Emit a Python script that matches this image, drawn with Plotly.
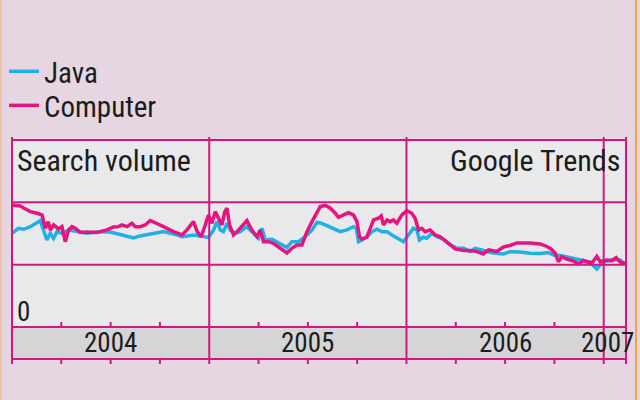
import plotly.graph_objects as go

# ---------------- data ----------------
java_year = [2004.000, 2004.033, 2004.059, 2004.093, 2004.143, 2004.160, 2004.177, 2004.194,
             2004.211, 2004.228, 2004.253, 2004.287, 2004.329, 2004.380, 2004.448, 2004.498,
             2004.549, 2004.616, 2004.650, 2004.718, 2004.768, 2004.819, 2004.862, 2004.920,
             2004.963, 2004.996, 2005.022, 2005.039, 2005.056, 2005.072, 2005.090, 2005.106,
             2005.132, 2005.157, 2005.191, 2005.225, 2005.250, 2005.267, 2005.284, 2005.318,
             2005.360, 2005.394, 2005.419, 2005.453, 2005.487, 2005.521, 2005.546, 2005.563,
             2005.588, 2005.613, 2005.664, 2005.698, 2005.731, 2005.745, 2005.757, 2005.774,
             2005.799, 2005.825, 2005.850, 2005.875, 2005.901, 2005.926, 2005.959, 2005.985,
             2006.010, 2006.035, 2006.053, 2006.066, 2006.086, 2006.103, 2006.129, 2006.154,
             2006.187, 2006.222, 2006.255, 2006.289, 2006.323, 2006.348, 2006.382, 2006.407,
             2006.441, 2006.492, 2006.526, 2006.576, 2006.627, 2006.678, 2006.720, 2006.745,
             2006.779, 2006.830, 2006.881, 2006.922, 2006.948, 2006.965, 2006.990, 2007.016,
             2007.049, 2007.083, 2007.108]
java_vol = [1.504, 1.584, 1.568, 1.610, 1.706, 1.530, 1.396, 1.504,
            1.424, 1.530, 1.504, 1.557, 1.530, 1.504, 1.530, 1.525,
            1.485, 1.429, 1.461, 1.504, 1.530, 1.493, 1.449, 1.477,
            1.449, 1.437, 1.557, 1.690, 1.557, 1.530, 1.665, 1.557,
            1.504, 1.530, 1.610, 1.504, 1.424, 1.584, 1.396, 1.408,
            1.343, 1.276, 1.369, 1.369, 1.449, 1.557, 1.677, 1.669,
            1.637, 1.605, 1.530, 1.557, 1.610, 1.584, 1.369, 1.396,
            1.449, 1.530, 1.568, 1.530, 1.530, 1.477, 1.424, 1.369,
            1.477, 1.584, 1.557, 1.396, 1.440, 1.424, 1.504, 1.449,
            1.408, 1.324, 1.263, 1.263, 1.209, 1.263, 1.236, 1.209,
            1.188, 1.172, 1.209, 1.204, 1.183, 1.180, 1.196, 1.156,
            1.148, 1.112, 1.075, 1.048, 0.984, 0.931, 1.022, 1.059,
            1.083, 1.075, 1.003]

computer_year = [2004.000, 2004.042, 2004.059, 2004.093, 2004.127, 2004.152, 2004.169, 2004.184,
                 2004.194, 2004.211, 2004.235, 2004.253, 2004.270, 2004.287, 2004.304, 2004.321,
                 2004.346, 2004.380, 2004.431, 2004.481, 2004.515, 2004.540, 2004.558, 2004.583,
                 2004.608, 2004.625, 2004.650, 2004.675, 2004.701, 2004.726, 2004.768, 2004.819,
                 2004.862, 2004.887, 2004.920, 2004.939, 2004.959, 2004.980, 2004.996, 2005.014,
                 2005.030, 2005.047, 2005.064, 2005.079, 2005.090, 2005.103, 2005.123, 2005.149,
                 2005.174, 2005.191, 2005.216, 2005.242, 2005.258, 2005.275, 2005.301, 2005.326,
                 2005.360, 2005.394, 2005.419, 2005.444, 2005.470, 2005.495, 2005.521, 2005.546,
                 2005.563, 2005.588, 2005.613, 2005.639, 2005.655, 2005.681, 2005.706, 2005.731,
                 2005.749, 2005.762, 2005.774, 2005.799, 2005.816, 2005.833, 2005.858, 2005.872,
                 2005.883, 2005.901, 2005.917, 2005.934, 2005.951, 2005.977, 2006.002, 2006.027,
                 2006.044, 2006.061, 2006.078, 2006.095, 2006.120, 2006.146, 2006.171, 2006.205,
                 2006.222, 2006.247, 2006.289, 2006.323, 2006.357, 2006.390, 2006.416, 2006.458,
                 2006.492, 2006.526, 2006.560, 2006.627, 2006.678, 2006.712, 2006.733, 2006.754,
                 2006.770, 2006.788, 2006.813, 2006.846, 2006.872, 2006.897, 2006.923, 2006.944,
                 2006.965, 2006.982, 2007.016, 2007.041, 2007.063, 2007.083, 2007.108]
computer_vol = [1.958, 1.942, 1.910, 1.851, 1.825, 1.798, 1.584, 1.690,
                1.557, 1.637, 1.573, 1.610, 1.369, 1.557, 1.610, 1.584,
                1.517, 1.525, 1.517, 1.557, 1.605, 1.610, 1.637, 1.610,
                1.665, 1.610, 1.610, 1.637, 1.709, 1.677, 1.610, 1.530,
                1.477, 1.557, 1.690, 1.530, 1.449, 1.637, 1.798, 1.665,
                1.851, 1.745, 1.637, 1.851, 1.905, 1.637, 1.477, 1.557,
                1.637, 1.706, 1.557, 1.449, 1.557, 1.369, 1.369, 1.343,
                1.263, 1.188, 1.263, 1.316, 1.316, 1.525, 1.690, 1.851,
                1.931, 1.950, 1.910, 1.825, 1.761, 1.798, 1.835, 1.798,
                1.690, 1.449, 1.408, 1.440, 1.584, 1.717, 1.745, 1.782,
                1.637, 1.717, 1.690, 1.717, 1.665, 1.798, 1.867, 1.825,
                1.745, 1.557, 1.584, 1.530, 1.557, 1.477, 1.449, 1.369,
                1.316, 1.252, 1.228, 1.228, 1.209, 1.172, 1.236, 1.212,
                1.284, 1.308, 1.348, 1.348, 1.332, 1.292, 1.252, 1.183,
                1.048, 1.128, 1.091, 1.059, 1.011, 1.067, 1.035, 1.043,
                1.132, 1.048, 1.075, 1.059, 1.112, 1.043, 1.022]

year_labels = ["2004", "2005", "2006", "2007"]
year_label_pos = [2004.5, 2005.5, 2006.5, 2007.02]
year_bounds = [2004, 2005, 2006, 2007]
quarter_ticks = [2004.25, 2004.5, 2004.75, 2005.25, 2005.5, 2005.75,
                 2006.25, 2006.5, 2006.75]
grid_vals = [1, 2]
X_RANGE = [2004.0, 2007.113]
Y_RANGE = [0, 3]

# ---------------- style ----------------
FONT = "Liberation Sans Narrow, Arial Narrow, Roboto Condensed, Roboto, Liberation Sans, sans-serif"
BLUE = "#1eb0e6"
PINK = "#e6147f"
FRAME = "#d2177f"
TEXT = "#1c1c1c"
PAPER = "#e6d6e1"
PLOT = "#e9e9eb"
BAND = "#d5d5d7"

L, R, T, B = 12, 14, 140, 73
W, H = 640, 400
plot_w = W - L - R
plot_h = H - T - B
band_bottom = -32 / plot_h
tick_len = 5 / plot_h
over_top = 1 + 3 / plot_h
over_bot = band_bottom - tick_len


def xp(v):
    return (v - X_RANGE[0]) / (X_RANGE[1] - X_RANGE[0])


def yp(v):
    return (v - Y_RANGE[0]) / (Y_RANGE[1] - Y_RANGE[0])


fig = go.Figure()
fig.add_trace(go.Scatter(x=java_year, y=java_vol, mode="lines", name="Java",
                         line=dict(color=BLUE, width=3.5), legend="legend"))
fig.add_trace(go.Scatter(x=computer_year, y=computer_vol, mode="lines", name="Computer",
                         line=dict(color=PINK, width=3.5), legend="legend2"))

shapes = []
# grey label band under the plot
shapes.append(dict(type="rect", xref="paper", yref="paper", x0=0, x1=1, y0=band_bottom, y1=0,
                   fillcolor=BAND, line=dict(width=0), layer="below"))
# horizontal frame lines
for yy in [1, yp(grid_vals[1]), yp(grid_vals[0]), 0, band_bottom]:
    shapes.append(dict(type="line", xref="paper", yref="paper", x0=0, x1=1, y0=yy, y1=yy,
                       line=dict(color=FRAME, width=2), layer="above"))
# vertical year lines + both ends
for xv in [0] + [xp(b) for b in year_bounds[1:]] + [1]:
    shapes.append(dict(type="line", xref="paper", yref="paper", x0=xv, x1=xv,
                       y0=over_bot, y1=over_top,
                       line=dict(color=FRAME, width=2), layer="above"))
# quarter ticks
for q in quarter_ticks:
    xv = xp(q)
    shapes.append(dict(type="line", xref="paper", yref="paper", x0=xv, x1=xv, y0=0, y1=tick_len,
                       line=dict(color=FRAME, width=2), layer="above"))
    shapes.append(dict(type="line", xref="paper", yref="paper", x0=xv, x1=xv,
                       y0=band_bottom - tick_len, y1=band_bottom,
                       line=dict(color=FRAME, width=2), layer="above"))
# thin orange page edges
shapes.append(dict(type="line", xref="paper", yref="paper", x0=(1 - L) / plot_w, x1=(1 - L) / plot_w,
                   y0=-B / plot_h, y1=1 + T / plot_h, line=dict(color="#f2c3a6", width=2), layer="below"))
shapes.append(dict(type="line", xref="paper", yref="paper", x0=(636 - L) / plot_w, x1=(636 - L) / plot_w,
                   y0=-B / plot_h, y1=1 + T / plot_h, line=dict(color="#f3a244", width=2), layer="below"))

annotations = [
    dict(text="Search volume", xref="paper", yref="paper", x=3 / plot_w, y=(327 - 160) / plot_h,
         xanchor="left", yanchor="middle", showarrow=False, font=dict(size=30, color=TEXT, family=FONT)),
    dict(text="Google Trends", xref="paper", yref="paper", x=(622 - L) / plot_w, y=(327 - 160) / plot_h,
         xanchor="right", yanchor="middle", showarrow=False, font=dict(size=30, color=TEXT, family=FONT)),
    dict(text="0", xref="paper", yref="paper", x=3 / plot_w, y=15 / plot_h,
         xanchor="left", yanchor="middle", showarrow=False, font=dict(size=27, color=TEXT, family=FONT)),
]
for lab, pos in zip(year_labels, year_label_pos):
    annotations.append(dict(text=lab, xref="x", yref="paper", x=pos, y=band_bottom / 2,
                            xanchor="center", yanchor="middle", showarrow=False,
                            font=dict(size=27, color=TEXT, family=FONT)))

legend_common = dict(xref="container", yref="container", xanchor="left", yanchor="top",
                     bgcolor="rgba(0,0,0,0)", font=dict(size=29, color=TEXT, family=FONT),
                     itemwidth=30)

fig.update_layout(
    width=W, height=H, autosize=False,
    margin=dict(l=L, r=R, t=T, b=B, pad=0, autoexpand=False),
    paper_bgcolor=PAPER, plot_bgcolor=PLOT,
    font=dict(family=FONT, color=TEXT),
    showlegend=True,
    legend=dict(x=4 / W, y=1 - 46 / H, **legend_common),
    legend2=dict(x=4 / W, y=1 - 80 / H, **legend_common),
    xaxis=dict(range=X_RANGE, showgrid=False, zeroline=False, showticklabels=False,
               ticks="", showline=False, fixedrange=True),
    yaxis=dict(range=Y_RANGE, showgrid=False, zeroline=False, showticklabels=False,
               ticks="", showline=False, fixedrange=True),
    shapes=shapes,
    annotations=annotations,
)

fig.write_html("out.html", config={"displayModeBar": False},
               post_script="document.body.style.margin='0';document.body.style.padding='0';"
                           "document.body.style.overflow='hidden';")
